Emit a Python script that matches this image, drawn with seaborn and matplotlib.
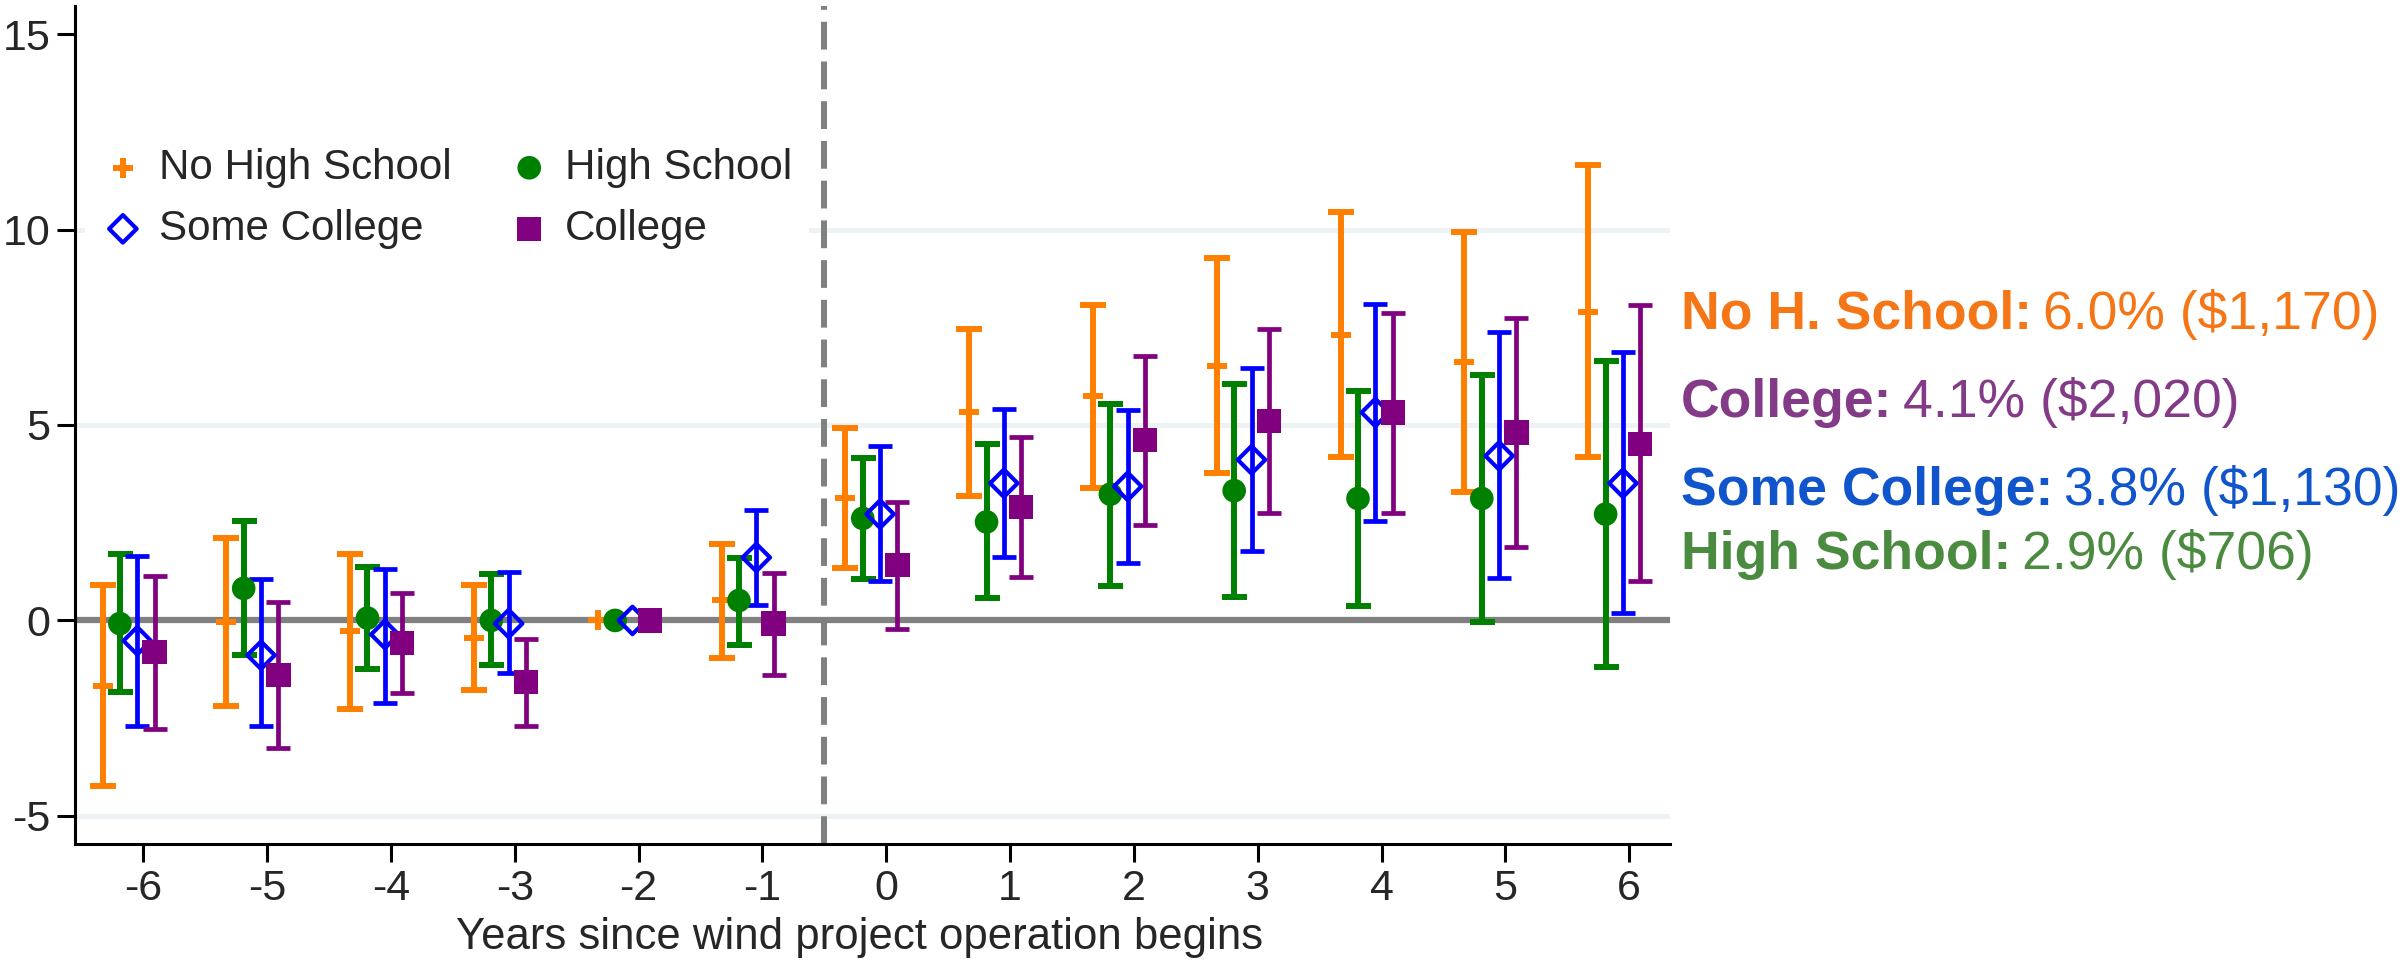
import numpy as np
import pandas as pd
import matplotlib
matplotlib.use("Agg")
import matplotlib.pyplot as plt
import seaborn as sns

# ---------------- data ----------------
periods = [-6, -5, -4, -3, -2, -1, 0, 1, 2, 3, 4, 5, 6]

nohs_est = [-1.68, -0.05, -0.28, -0.44, 0.0, 0.51, 3.12, 5.33, 5.73, 6.52, 7.31, 6.61, 7.90]
nohs_lo = [-4.24, -2.18, -2.26, -1.79, 0.0, -0.95, 1.34, 3.18, 3.39, 3.77, 4.18, 3.29, 4.19]
nohs_hi = [0.90, 2.12, 1.69, 0.90, 0.0, 1.95, 4.92, 7.45, 8.07, 9.27, 10.46, 9.94, 11.66]

hs_est = [-0.08, 0.82, 0.06, 0.0, 0.0, 0.51, 2.61, 2.52, 3.23, 3.32, 3.12, 3.12, 2.72]
hs_lo = [-1.82, -0.89, -1.23, -1.14, 0.0, -0.63, 1.06, 0.57, 0.87, 0.59, 0.38, -0.03, -1.20]
hs_hi = [1.69, 2.55, 1.36, 1.20, 0.0, 1.61, 4.16, 4.51, 5.55, 6.06, 5.87, 6.28, 6.65]

sc_est = [-0.52, -0.89, -0.36, -0.08, 0.0, 1.61, 2.72, 3.51, 3.43, 4.11, 5.32, 4.21, 3.51]
sc_lo = [-2.69, -2.71, -2.10, -1.34, 0.0, 0.40, 1.00, 1.63, 1.46, 1.77, 2.55, 1.08, 0.19]
sc_hi = [1.65, 1.06, 1.31, 1.23, 0.0, 2.83, 4.45, 5.41, 5.38, 6.47, 8.09, 7.37, 6.87]

col_est = [-0.81, -1.39, -0.57, -1.58, 0.0, -0.08, 1.42, 2.91, 4.62, 5.11, 5.32, 4.81, 4.51]
col_lo = [-2.78, -3.26, -1.85, -2.69, 0.0, -1.39, -0.21, 1.11, 2.45, 2.75, 2.75, 1.88, 1.00]
col_hi = [1.14, 0.46, 0.71, -0.47, 0.0, 1.22, 3.04, 4.70, 6.77, 7.45, 7.86, 7.74, 8.07]

series_names = ["No High School", "High School", "Some College", "College"]
yticks = [-5, 0, 5, 10, 15]

summary_bold = ["No H. School:", "College:", "Some College:", "High School:"]
summary_vals = ["6.0% ($1,170)", "4.1% ($2,020)", "3.8% ($1,130)", "2.9% ($706)"]

# ---------------- style ----------------
sns.set_theme(style="white")
plt.rcParams["font.family"] = ["Liberation Sans", "DejaVu Sans"]
plt.rcParams["axes.unicode_minus"] = False

W, H = 2407, 966
fig = plt.figure(figsize=(W / 100, H / 100), dpi=100)
ax = fig.add_axes([75.3 / W, 1 - 844 / H, (1670 - 75.3) / W, (844 - 6) / H])

ax.set_xlim(-6.55, 6.33)
ax.set_ylim(-5.72, 15.72)

# gridlines & reference lines
for g in [-5, 5, 10]:
    ax.axhline(g, color="#edf3f4", lw=3.6, zorder=0)
ax.axhline(0, color="#808080", lw=4.5, zorder=1)
lw_d = 4.3
ax.axvline(-0.5, color="#808080", lw=lw_d, dashes=(20 / lw_d, 8.6 / lw_d), zorder=1)

specs = [
    dict(name="No High School", est=nohs_est, lo=nohs_lo, hi=nohs_hi, off=-0.33,
         color="#ff8000", lw=4.3, cap=9.2, marker="+", s=15 ** 2, mlw=4.3, face=None),
    dict(name="High School", est=hs_est, lo=hs_lo, hi=hs_hi, off=-0.19,
         color="#008000", lw=4.3, cap=9.0, marker="o", s=17 ** 2, mlw=0, face="#008000"),
    dict(name="Some College", est=sc_est, lo=sc_lo, hi=sc_hi, off=-0.05,
         color="#0000ff", lw=3.4, cap=8.6, marker="D", s=14 ** 2, mlw=3.0, face="none"),
    dict(name="College", est=col_est, lo=col_lo, hi=col_hi, off=0.09,
         color="#800080", lw=3.4, cap=8.9, marker="s", s=17.5 ** 2, mlw=0, face="#800080"),
]

for i, sp in enumerate(specs):
    df = pd.DataFrame({"period": periods, "est": sp["est"], "lo": sp["lo"], "hi": sp["hi"]})
    df["x"] = df["period"] + sp["off"]
    ci = df[df["hi"] > df["lo"]]
    ax.errorbar(ci["x"], ci["est"],
                yerr=[ci["est"] - ci["lo"], ci["hi"] - ci["est"]],
                fmt="none", ecolor=sp["color"], elinewidth=sp["lw"],
                capsize=sp["cap"], capthick=sp["lw"], zorder=3 + i)
    kw = dict(marker=sp["marker"], s=sp["s"], color=sp["color"], linewidth=sp["mlw"])
    if sp["face"] == "none":
        kw["facecolor"] = "none"
        kw["edgecolor"] = sp["color"]
    elif sp["face"] is not None:
        kw["edgecolor"] = "none"
    sns.scatterplot(data=df, x="x", y="est", ax=ax, label=sp["name"], zorder=10 + i, **kw)

# axes styling
ax.set_xticks(periods)
ax.set_yticks(yticks)
ax.set_xticklabels([str(p) for p in periods])
ax.set_yticklabels([str(t) for t in yticks])
ax.tick_params(axis="both", which="major", labelsize=31, length=13, width=2.2,
               color="black", direction="out", bottom=True, left=True)
ax.tick_params(axis="y", pad=5)
ax.tick_params(axis="x", pad=5)
for sname in ["top", "right"]:
    ax.spines[sname].set_visible(False)
for sname in ["left", "bottom"]:
    ax.spines[sname].set_color("black")
    ax.spines[sname].set_linewidth(2.2)
ax.grid(False)
ax.set_xlabel("Years since wind project operation begins", fontsize=31.5)
ax.xaxis.set_label_coords(0.492, (844 - 937) / 838)
ax.xaxis.label.set_va("center")
ax.set_ylabel("")

# legend
handles, labels = ax.get_legend_handles_labels()
order = ["No High School", "Some College", "High School", "College"]
hmap = dict(zip(labels, handles))
leg = ax.legend([hmap[o] for o in order], order, ncol=2, loc="upper left",
                bbox_to_anchor=(85 / W, 1 - 131 / H), bbox_transform=fig.transFigure,
                fontsize=30.3, frameon=True, facecolor="white", edgecolor="none",
                framealpha=1.0, handlelength=1.0, handletextpad=0.35,
                columnspacing=1.35, labelspacing=0.5, borderpad=0.4, borderaxespad=0,
                fancybox=False)
leg.set_zorder(20)

# right-side summary text
txt_colors = ["#f57616", "#833a87", "#1155cc", "#4a8b3f"]
baselines = [328.5, 416.5, 504.5, 569.5]
for b, v, c, yb in zip(summary_bold, summary_vals, txt_colors, baselines):
    t = fig.text(1681 / W, 1 - yb / H, b, fontsize=38.5, fontweight="bold", color=c,
                 ha="left", va="baseline")
    ax.annotate(v, xy=(1, 0), xycoords=t, xytext=(8, 0), textcoords="offset points",
                fontsize=38.5, color=c, ha="left", va="bottom", annotation_clip=False)

fig.savefig("out.png", dpi=100)
